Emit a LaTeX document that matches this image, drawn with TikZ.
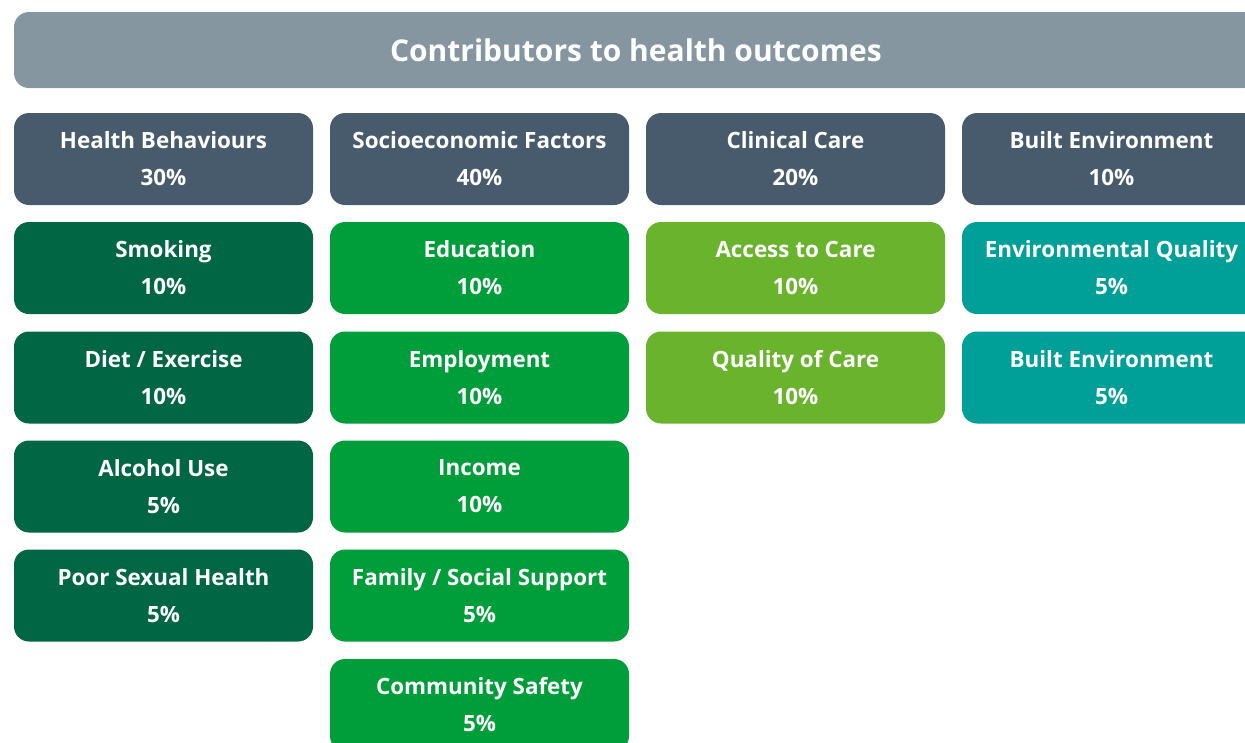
\documentclass[tikz,border=0pt]{standalone}
\usepackage{fontspec}
\setmainfont{Open Sans}
\definecolor{titlegray}{RGB}{133,150,161}
\definecolor{headslate}{RGB}{71,91,108}
\definecolor{darkgreen}{RGB}{0,102,68}
\definecolor{midgreen}{RGB}{0,158,59}
\definecolor{lightgreen}{RGB}{106,180,45}
\definecolor{tealc}{RGB}{0,160,152}
\begin{document}
\begin{tikzpicture}[x=1pt,y=-1pt,
  box/.style={rounded corners=15pt, minimum width=299pt, minimum height=92pt, inner sep=0pt,
    text=white, align=center, font=\bfseries\fontsize{22.4}{37}\selectfont},
  head/.style={box, fill=headslate},
  hbox/.style={box, fill=darkgreen},
  sbox/.style={box, fill=midgreen},
  cbox/.style={box, fill=lightgreen},
  ebox/.style={box, fill=tealc},
  titlebar/.style={rounded corners=15pt, minimum width=1244pt, minimum height=76pt, inner sep=0pt,
    fill=titlegray, text=white, font=\bfseries\fontsize{30}{34}\selectfont}]
\useasboundingbox (0,0) rectangle (1245,742);
\clip (0,0) rectangle (1245,742);
\node[titlebar] (title) at (636,50) {Contributors to health outcomes};
% headers
\node[head] (hb) at (163.5,159) {Health Behaviours\\30\%};
\node[head] (sf) at (479.5,159) {Socioeconomic Factors\\40\%};
\node[head] (cc) at (795.5,159) {Clinical Care\\20\%};
\node[head] (be) at (1111.5,159) {Built Environment\\10\%};
% column 1
\node[hbox] (smok) at (163.5,268) {Smoking\\10\%};
\node[hbox] (diet) at (163.5,377.5) {Diet / Exercise\\10\%};
\node[hbox] (alc) at (163.5,486.5) {Alcohol Use\\5\%};
\node[hbox] (sex) at (163.5,595.5) {Poor Sexual Health\\5\%};
% column 2
\node[sbox] (edu) at (479.5,268) {Education\\10\%};
\node[sbox] (emp) at (479.5,377.5) {Employment\\10\%};
\node[sbox] (inc) at (479.5,486.5) {Income\\10\%};
\node[sbox] (fam) at (479.5,595.5) {Family / Social Support\\5\%};
\node[sbox] (com) at (479.5,705) {Community Safety\\5\%};
% column 3
\node[cbox] (acc) at (795.5,268) {Access to Care\\10\%};
\node[cbox] (qual) at (795.5,377.5) {Quality of Care\\10\%};
% column 4
\node[ebox] (envq) at (1111.5,268) {Environmental Quality\\5\%};
\node[ebox] (benv) at (1111.5,377.5) {Built Environment\\5\%};
\end{tikzpicture}
\end{document}
